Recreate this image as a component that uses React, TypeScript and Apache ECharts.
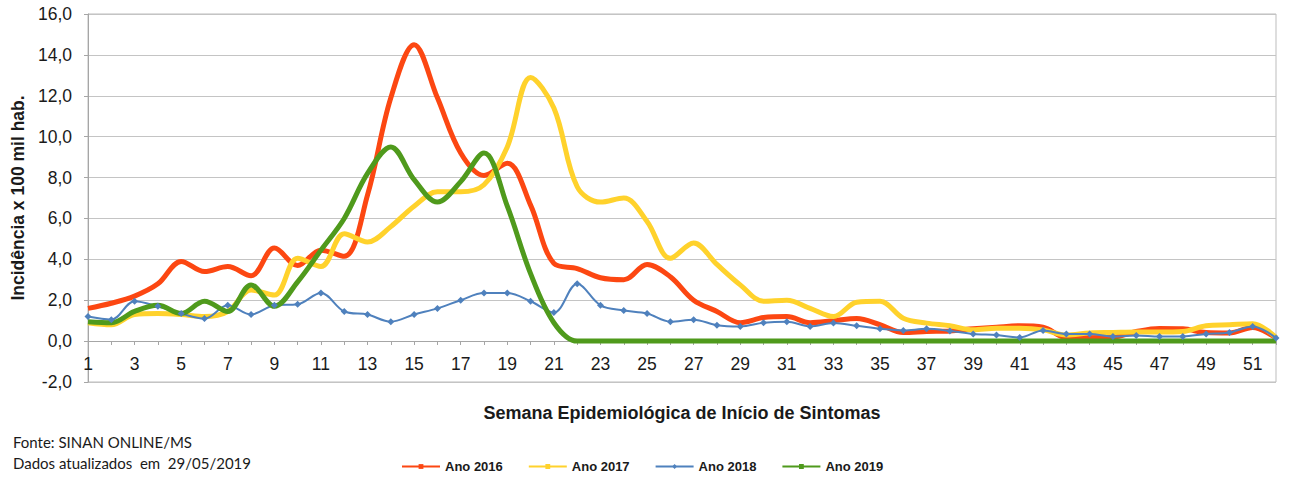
import React, { useEffect, useRef } from "react";
import * as echarts from "echarts";

const weeks = ["1","2","3","4","5","6","7","8","9","10","11","12","13","14","15","16","17","18","19","20","21","22","23","24","25","26","27","28","29","30","31","32","33","34","35","36","37","38","39","40","41","42","43","44","45","46","47","48","49","50","51","52"];

const ano2016 = [1.6,1.85,2.2,2.8,3.9,3.4,3.65,3.2,4.55,3.7,4.45,4.15,7.15,11.9,14.5,11.9,9.2,8.1,8.7,6.65,3.8,3.55,3.1,3.0,3.75,3.15,2.0,1.45,0.9,1.15,1.2,0.9,1.0,1.1,0.8,0.42,0.47,0.5,0.6,0.68,0.75,0.68,0.18,0.23,0.2,0.47,0.62,0.6,0.42,0.4,0.67,0.15];
const ano2017 = [0.9,0.8,1.3,1.35,1.3,1.2,1.45,2.5,2.25,4.05,3.65,5.25,4.85,5.6,6.6,7.3,7.3,7.65,9.5,12.9,11.4,7.55,6.8,7.0,5.85,4.05,4.8,3.75,2.75,1.95,2.0,1.6,1.2,1.9,1.95,1.12,0.88,0.75,0.55,0.63,0.63,0.55,0.3,0.4,0.42,0.44,0.44,0.47,0.75,0.8,0.85,0.18];
const ano2018 = [1.2,1.05,1.95,1.7,1.35,1.1,1.75,1.3,1.75,1.8,2.35,1.45,1.3,0.95,1.3,1.6,2.0,2.35,2.35,1.95,1.4,2.8,1.75,1.5,1.35,0.95,1.05,0.78,0.72,0.9,0.95,0.72,0.88,0.75,0.6,0.52,0.6,0.5,0.35,0.3,0.18,0.52,0.35,0.35,0.23,0.28,0.23,0.23,0.35,0.42,0.72,0.15];
const ano2019 = [0.95,0.9,1.45,1.75,1.35,1.95,1.45,2.75,1.7,2.9,4.45,6.0,8.2,9.5,7.9,6.8,7.8,9.2,6.6,3.3,0.9,0,0,0,0,0,0,0,0,0,0,0,0,0,0,0,0,0,0,0,0,0,0,0,0,0,0,0,0,0,0,0];

const seriesNames = ["Ano 2016", "Ano 2017", "Ano 2018", "Ano 2019"];
const colors = ["#fc4712", "#ffd22c", "#4f81bd", "#4f9a1c"];

const yTitle = "Incidência x 100 mil hab.";
const xTitle = "Semana Epidemiológica de Início de Sintomas";
const source = "Fonte: SINAN ONLINE/MS";
const updated = "Dados atualizados  em  29/05/2019";

export default function App() {
  const ref = useRef<HTMLDivElement>(null);
  useEffect(() => {
    if (!ref.current) return;
    const chart = echarts.init(ref.current, null, { renderer: "svg" });
    const font = "'Liberation Sans', Arial, sans-serif";
    const thick = (name: string, data: number[], color: string) => ({
      name,
      type: "line",
      data,
      smooth: 0.35,
      symbol: "rect",
      symbolSize: 4,
      showSymbol: false,
      lineStyle: { color, width: 5 },
      itemStyle: { color },
    });
    chart.setOption({
      animation: false,
      grid: {
        left: 88,
        right: 14,
        top: 14,
        bottom: 97,
        containLabel: false,
        outerBoundsMode: "none",
        show: true,
        borderColor: "#bdbdbd",
        borderWidth: 1,
      },
      xAxis: {
        type: "category",
        data: weeks,
        boundaryGap: false,
        offset: -41,
        axisLine: { onZero: false, lineStyle: { color: "#a6a6a6" } },
        axisTick: { show: true, interval: 0, length: 4, lineStyle: { color: "#a6a6a6" } },
        axisLabel: {
          interval: 1,
          color: "#1a1a1a",
          fontSize: 17.5,
          margin: 14,
          fontFamily: font,
        },
        name: xTitle,
        nameLocation: "middle",
        nameGap: 63,
        nameTextStyle: { fontSize: 18, fontWeight: "bold", color: "#1a1a1a", fontFamily: font },
      },
      yAxis: {
        type: "value",
        min: -2,
        max: 16,
        interval: 2,
        axisLine: { show: true, lineStyle: { color: "#a6a6a6" } },
        axisTick: { show: true, length: 4, lineStyle: { color: "#a6a6a6" } },
        splitLine: { lineStyle: { color: "#c4c4c4" } },
        axisLabel: {
          color: "#1a1a1a",
          fontSize: 17.5,
          margin: 16,
          fontFamily: font,
          formatter: (v: number) => v.toFixed(1).replace(".", ","),
        },
        name: yTitle,
        nameLocation: "middle",
        nameGap: 61,
        nameRotate: 90,
        nameTextStyle: { fontSize: 17.5, fontWeight: "bold", color: "#1a1a1a", fontFamily: font },
      },
      legend: {
        left: 396,
        top: 455,
        itemGap: 25,
        itemWidth: 38,
        itemHeight: 6,
        textStyle: { fontSize: 13, fontWeight: "bold", color: "#1a1a1a", fontFamily: font },
        data: seriesNames,
      },
      graphic: [
        { type: "text", left: 13, top: 434, style: { text: source, font: "15px Lato, 'Open Sans', sans-serif", fill: "#1a1a1a" } },
        { type: "text", left: 13, top: 455, style: { text: updated, font: "15px Lato, 'Open Sans', sans-serif", fill: "#1a1a1a" } },
      ],
      series: [
        thick(seriesNames[0], ano2016, colors[0]),
        thick(seriesNames[1], ano2017, colors[1]),
        {
          name: seriesNames[2],
          type: "line",
          data: ano2018,
          smooth: 0.35,
          symbol: "diamond",
          symbolSize: 7,
          lineStyle: { color: colors[2], width: 2 },
          itemStyle: { color: colors[2] },
        },
        thick(seriesNames[3], ano2019, colors[3]),
      ],
    });
    return () => chart.dispose();
  }, []);
  return <div ref={ref} style={{ position: "fixed", left: 0, top: 0, width: 1290, height: 479, background: "#fff" }} />;
}
